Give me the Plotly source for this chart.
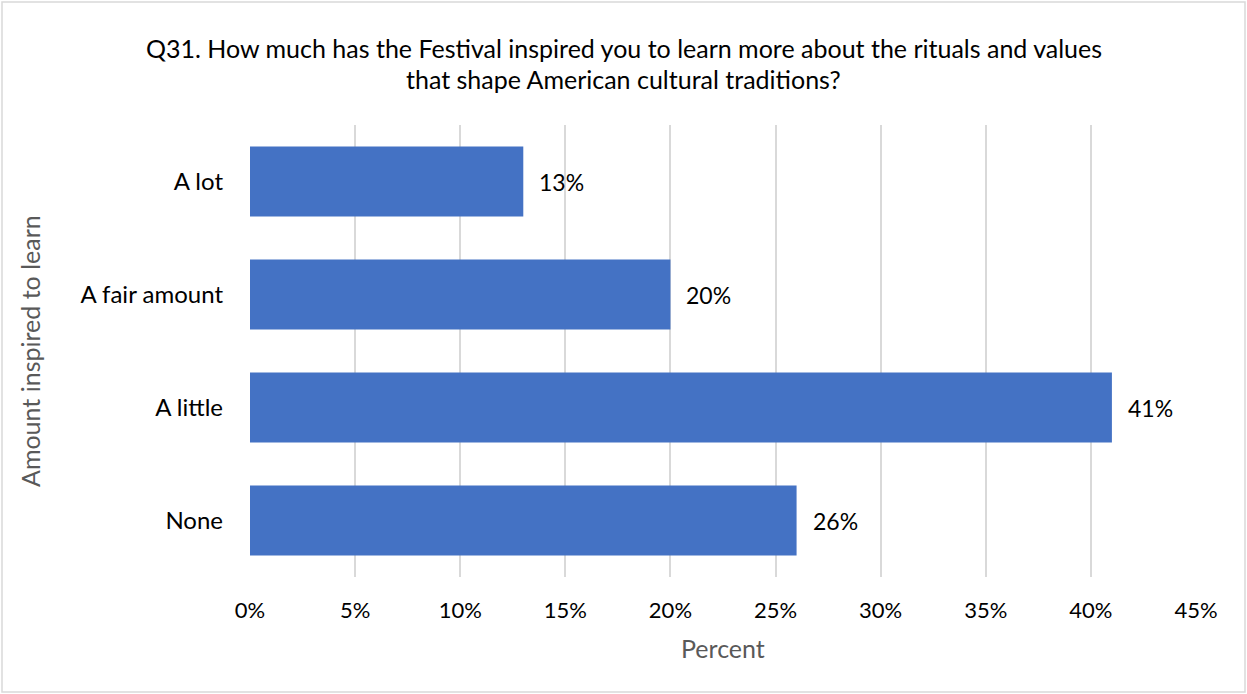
import plotly.graph_objects as go

# Survey responses (percent of respondents)
categories = ["A lot", "A fair amount", "A little", "None"]
percents = [13, 20, 41, 26]
tick_values = [0, 5, 10, 15, 20, 25, 30, 35, 40, 45]
tick_labels = ["0%", "5%", "10%", "15%", "20%", "25%", "30%", "35%", "40%", "45%"]

title_lines = [
    "Q31. How much has the Festival inspired you to learn more about the rituals and values",
    "that shape American cultural traditions?",
]

W, H = 1247, 694
ML, MR, MT, MB = 250, 51, 125, 117
PW, PH = W - ML - MR, H - MT - MB

FONT = "Lato, Calibri, sans-serif"
BAR_COLOR = "#4472C4"
GRID = "#D9D9D9"


def px_x(px):
    return (px - ML) / PW


def px_y(py):
    return 1 - (py - MT) / PH


fig = go.Figure(
    go.Bar(
        y=categories,
        x=percents,
        orientation="h",
        marker=dict(color=BAR_COLOR, line=dict(width=0)),
        width=0.62,
        hoverinfo="skip",
    )
)

# value labels to the right of each bar
for cat, v in zip(categories, percents):
    fig.add_annotation(
        x=v, y=cat, xref="x", yref="y",
        text=f"{v}%", showarrow=False,
        xanchor="left", yanchor="middle", xshift=14,
        font=dict(family=FONT, size=23, color="#000000"),
    )

# chart title, two centred lines
for line, cy in zip(title_lines, [48, 79]):
    fig.add_annotation(
        x=px_x(W / 2), y=px_y(cy), xref="paper", yref="paper",
        text=line, showarrow=False, xanchor="center", yanchor="middle",
        font=dict(family=FONT, size=25, color="#000000"),
    )

# axis titles
fig.add_annotation(
    x=px_x(30), y=0.5, xref="paper", yref="paper",
    text="Amount inspired to learn", textangle=-90, showarrow=False,
    xanchor="center", yanchor="middle",
    font=dict(family=FONT, size=25, color="#595959"),
)
fig.add_annotation(
    x=px_x(723), y=px_y(648), xref="paper", yref="paper",
    text="Percent", showarrow=False,
    xanchor="center", yanchor="middle",
    font=dict(family=FONT, size=25, color="#595959"),
)

# light frame around the whole chart
fig.add_shape(
    type="rect", xref="paper", yref="paper",
    x0=px_x(2), x1=px_x(1245), y0=px_y(692), y1=px_y(2),
    line=dict(color=GRID, width=1.5), fillcolor="rgba(0,0,0,0)", layer="below",
)

fig.update_layout(
    width=W, height=H,
    margin=dict(l=ML, r=MR, t=MT, b=MB, pad=0),
    paper_bgcolor="white", plot_bgcolor="white",
    showlegend=False,
    xaxis=dict(
        range=[0, 45], tickvals=tick_values, ticktext=tick_labels,
        showgrid=True, gridcolor=GRID, gridwidth=1.5,
        zeroline=False, showline=False, ticks="",
        ticklabelstandoff=18,
        tickfont=dict(family=FONT, size=22, color="#000000"),
        fixedrange=True,
    ),
    yaxis=dict(
        categoryorder="array", categoryarray=categories[::-1],
        showgrid=False, zeroline=False, showline=False, ticks="",
        ticklabelstandoff=26,
        tickfont=dict(family=FONT, size=24, color="#000000"),
        fixedrange=True,
    ),
    bargap=0.38,
)

fig.write_html("out.html")
